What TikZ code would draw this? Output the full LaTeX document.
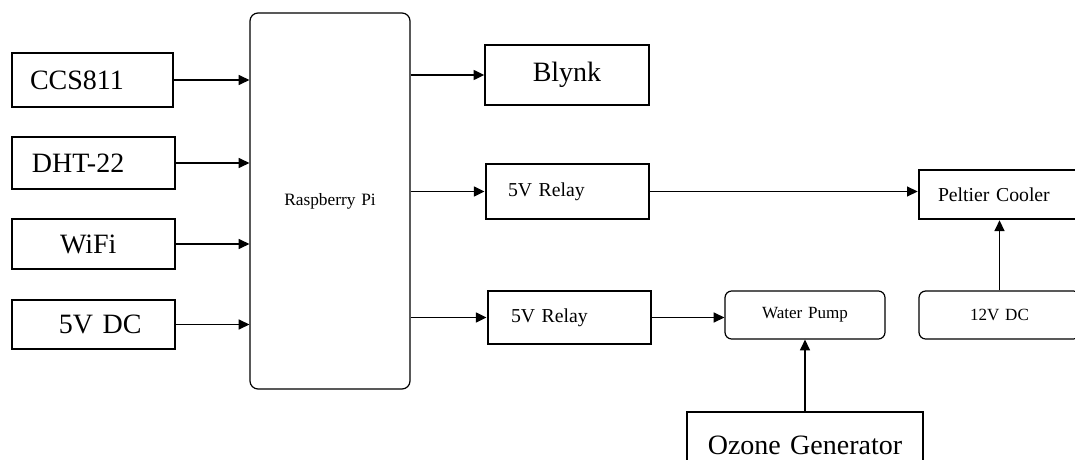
\documentclass[tikz,border=0pt]{standalone}
\usepackage{fontspec}
\setmainfont{Liberation Serif}
\usetikzlibrary{arrows.meta}

\tikzset{
  unit/.style={draw, line width=1.1pt, inner sep=0pt, align=left},
  relay/.style={unit, line width=2.2pt},
  soft/.style={unit, line width=0.9pt, rounded corners=5pt, align=center},
  pad/.style={execute at begin node={\hspace*{#1}}},
  big/.style={font=\fontsize{21}{24}\selectfont},
  mid/.style={font=\fontsize{14.8}{17}\selectfont},
  small/.style={font=\fontsize{12.8}{15}\selectfont},
  feed/.style={line width=1pt, -{Triangle[length=8pt,width=7.5pt]}}
}

\begin{document}
\begin{tikzpicture}[x=0.75pt, y=-0.75pt]

\useasboundingbox (0,0) rectangle (1075,460);
\clip (0,0) rectangle (1075,460);

% Inputs
  \node[unit, big, text width=120.75pt, minimum height=40.5pt, pad=13.5pt] (ccs) at (92.5,80) {CCS811};
  \node[unit, big, text width=122.25pt, minimum height=39pt, pad=15pt] (dht) at (93.5,163) {DHT-22};
  \node[unit, big, text width=122.25pt, minimum height=37.5pt, pad=36pt] (wifi) at (93.5,244) {WiFi};
  \node[unit, big, text width=122.25pt, minimum height=36.75pt, pad=35.25pt] (dcin) at (93.5,324.5) {5V DC};

% Controller
  \node[unit, line width=0.9pt, rounded corners=6pt, align=center, font=\fontsize{13}{15}\selectfont,
        text width=120pt, minimum height=282pt] (rpi) at (330,201) {Raspberry Pi};

% Outputs
  \node[unit, big, align=center, text width=123pt, minimum height=45pt] (blynk) at (567,75) {Blynk};
  \node[relay, mid, text width=122.25pt, minimum height=41.25pt, pad=16.5pt] (relayA) at (567.5,191.5) {5V Relay};
  \node[relay, mid, text width=122.25pt, minimum height=39.75pt, pad=17.25pt] (relayB) at (569.5,317.5) {5V Relay};

% Loads and supplies
  \node[relay, line width=2pt, mid, text width=120.75pt, minimum height=36.75pt, pad=14.25pt] (peltier) at (999.5,194.5) {Peltier Cooler};
  \node[soft, small, text width=120pt, minimum height=36pt] (pump) at (805,315) {Water Pump};
  \node[soft, small, text width=120.75pt, minimum height=36pt] (dcpel) at (999.5,315) {12V DC};
  \node[unit, big, align=center, line width=1pt, text width=177pt, minimum height=49.5pt] (ozone) at (805,445) {Ozone Generator};

% Connectors
  \draw[feed] (ccs.east) -- (ccs.east -| rpi.west);
  \draw[feed] (dht.east) -- (dht.east -| rpi.west);
  \draw[feed] (wifi.east) -- (wifi.east -| rpi.west);
  \draw[feed] (dcin.east) -- (dcin.east -| rpi.west);

  \draw[feed] (rpi.east |- blynk.west) -- (blynk.west);
  \draw[feed] (rpi.east |- relayA.west) -- (relayA.west);
  \draw[feed] (rpi.east |- relayB.west) -- (relayB.west);

  \draw[feed] (relayA.east) -- (relayA.east -| peltier.west);
  \draw[feed] (relayB.east) -- (relayB.east -| pump.west);
  \draw[feed] (dcpel.north) -- (peltier.south);
  \draw[feed] (ozone.north) -- (pump.south);

\end{tikzpicture}
\end{document}
